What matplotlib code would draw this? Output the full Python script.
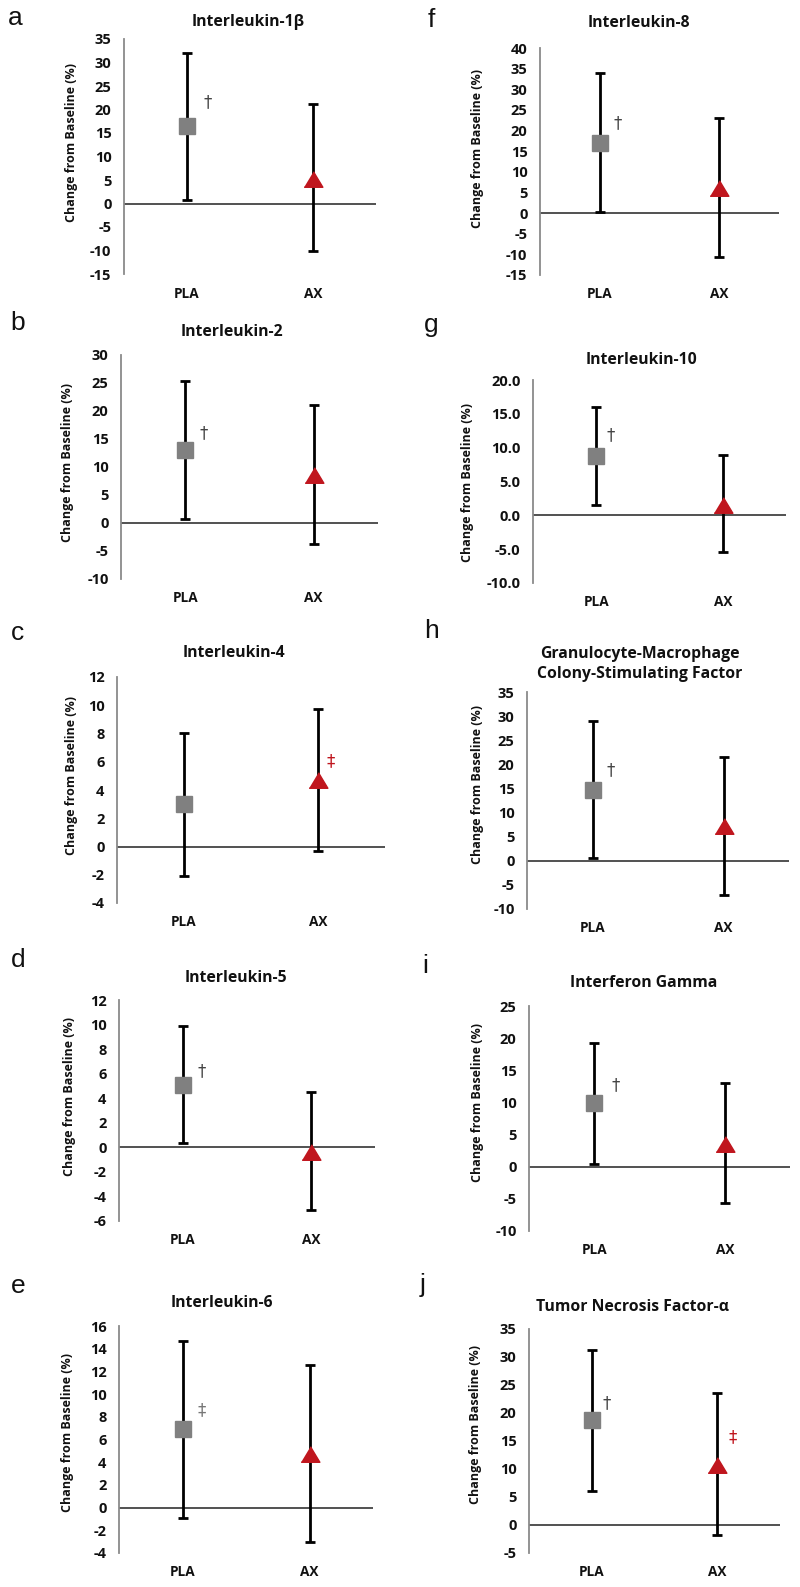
import matplotlib
matplotlib.use("Agg")
import matplotlib.pyplot as plt
import numpy as np
from matplotlib.ticker import FormatStrFormatter

plt.rcParams['font.family'] = ['Open Sans', 'DejaVu Sans']
plt.rcParams['font.weight'] = 'bold'

# ---------------- data ----------------
panel_letters = ['a', 'b', 'c', 'd', 'e', 'f', 'g', 'h', 'i', 'j']
titles = ["Interleukin-1β", "Interleukin-2", "Interleukin-4", "Interleukin-5",
          "Interleukin-6", "Interleukin-8", "Interleukin-10",
          "Granulocyte-Macrophage\nColony-Stimulating Factor",
          "Interferon Gamma", "Tumor Necrosis Factor-α"]
groups = ['PLA', 'AX']

pla_mean = [16.5, 13.1, 3.0, 5.1, 6.9, 17.0, 8.8, 14.7, 9.85, 18.7]
pla_upper = [32.1, 25.4, 8.05, 9.9, 14.7, 33.9, 16.0, 28.9, 19.2, 31.3]
pla_lower = [0.85, 0.8, -2.1, 0.35, -0.95, 0.15, 1.6, 0.5, 0.5, 6.1]

ax_mean = [5.3, 8.6, 4.7, -0.4, 4.7, 6.0, 1.6, 7.2, 3.6, 10.8]
ax_upper = [21.1, 21.0, 9.75, 4.5, 12.6, 23.1, 8.9, 21.5, 13.1, 23.6]
ax_lower = [-10.1, -3.7, -0.3, -5.1, -3.0, -10.7, -5.4, -7.0, -5.6, -1.7]

y_min = [-15, -10, -4, -6, -4, -15, -10, -10, -10, -5]
y_max = [35, 30, 12, 12, 16, 40, 20, 35, 25, 35]
y_step = [5, 5, 2, 2, 2, 5, 5, 5, 5, 5]
y_fmt = ['%d', '%d', '%d', '%d', '%d', '%d', '%.1f', '%d', '%d', '%d']

pla_marks = ['†', '†', '', '†', '‡', '†', '†', '†', '†', '†']
ax_marks = ['', '', '‡', '', '', '', '', '', '', '‡']

# ---------------- layout (pixels) ----------------
W, H = 800, 1587
boxes = [(124, 39, 376, 274), (121, 355, 378, 579), (117, 677, 385, 903),
         (119, 1000, 375, 1221), (119, 1326, 373, 1553),
         (540, 48, 779, 275), (533, 380, 786, 583), (527, 692, 789, 909),
         (529, 1006, 790, 1231), (529, 1329, 780, 1553)]
title_pos = [(248, 22), (232, 332), (234, 653), (236, 978), (222, 1303),
             (639, 23), (641, 360), (640, 664), (644, 983), (633, 1307)]
ylabel_pos = [(72, 143), (68, 463), (72, 775), (70, 1097), (68, 1432),
              (478, 149), (468, 482), (478, 784), (478, 1103), (475, 1425)]
letter_pos = [(15, 25), (18, 330), (17, 640), (18, 967), (18, 1293),
              (431, 27), (431, 332), (432, 638), (425, 973), (423, 1292)]
pla_mark_pos = [(208, 102), (204, 433), None, (202, 1071), (202, 1410),
                (618, 123), (611, 435), (611, 770), (616, 1085), (607, 1403)]
ax_mark_pos = [None, None, (331, 761), None, None, None, None, None, None, (733, 1437)]
pla_mark_color = ['#444444'] * 4 + ['#777777'] + ['#444444'] * 5

GRAY = '#808080'
RED = '#c0161e'
tri = [(-1, -0.83), (1, -0.83), (0, 0.83)]

fig = plt.figure(figsize=(W / 100, H / 100), dpi=100)


def fx(px):
    return px / W


def fy(py):
    return 1 - py / H


for i in range(10):
    l, t, r, b = boxes[i]
    ax = fig.add_axes([fx(l), fy(b), (r - l) / W, (b - t) / H])
    ax.set_xlim(0.5, 2.5)
    ax.set_ylim(y_min[i], y_max[i])

    xs = [1, 2]
    means = [pla_mean[i], ax_mean[i]]
    lows = [pla_lower[i], ax_lower[i]]
    ups = [pla_upper[i], ax_upper[i]]
    ax.errorbar(xs, means,
                yerr=[np.array(means) - np.array(lows), np.array(ups) - np.array(means)],
                fmt='none', ecolor='black', elinewidth=2.0, capsize=3.6,
                capthick=2.0, zorder=3)
    ax.plot([1], [pla_mean[i]], ls='none', marker='s', ms=12, color=GRAY,
            mec=GRAY, zorder=4)
    ax.plot([2], [ax_mean[i]], ls='none', marker=tri, ms=13.5, color=RED,
            mec=RED, zorder=4)
    ax.axhline(0, color='#222222', lw=1.1, zorder=2)

    for s in ['top', 'right', 'bottom']:
        ax.spines[s].set_visible(False)
    ax.spines['left'].set_color('#8a8a8a')
    ax.spines['left'].set_linewidth(1.3)

    ax.set_yticks(np.arange(y_min[i], y_max[i] + y_step[i] / 2, y_step[i]))
    ax.yaxis.set_major_formatter(FormatStrFormatter(y_fmt[i]))
    ax.tick_params(axis='y', length=0, pad=9, labelsize=10.5, labelcolor='#111111')
    ax.set_xticks(xs)
    ax.set_xticklabels(groups)
    ax.tick_params(axis='x', length=0, pad=9, labelsize=9.8, labelcolor='#111111')
    ax.patch.set_alpha(0)

    fig.text(fx(title_pos[i][0]), fy(title_pos[i][1]), titles[i], ha='center',
             va='center', fontsize=11.3, fontweight='bold', color='#111111',
             linespacing=1.3)
    fig.text(fx(ylabel_pos[i][0]), fy(ylabel_pos[i][1]), 'Change from Baseline (%)',
             ha='center', va='center', rotation=90, fontsize=9.0,
             fontweight='bold', color='#111111')
    fig.text(fx(letter_pos[i][0]), fy(letter_pos[i][1]), panel_letters[i],
             ha='center', va='baseline', fontsize=19, fontweight='normal',
             family=['Liberation Sans', 'DejaVu Sans'], color='#111111')
    if pla_marks[i]:
        px, py = pla_mark_pos[i]
        fig.text(fx(px), fy(py), pla_marks[i], ha='center', va='center',
                 fontsize=12, fontweight='normal', color=pla_mark_color[i],
                 family=['DejaVu Sans'])
    if ax_marks[i]:
        px, py = ax_mark_pos[i]
        fig.text(fx(px), fy(py), ax_marks[i], ha='center', va='center',
                 fontsize=12, fontweight='normal', color=RED,
                 family=['DejaVu Sans'])

fig.savefig('out.png', dpi=100, facecolor='white')
